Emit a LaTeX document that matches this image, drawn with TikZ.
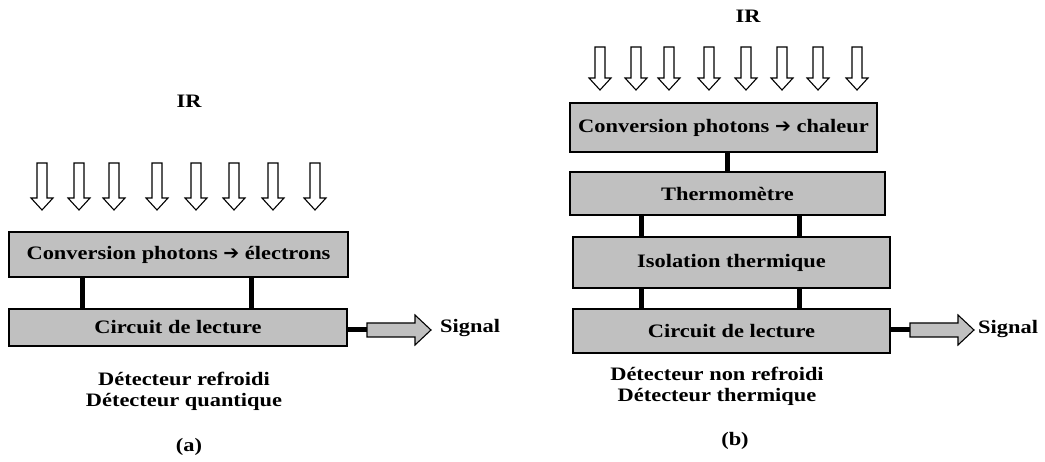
\documentclass[tikz,border=0pt]{standalone}
\usepackage{fontspec}
\newfontfamily\dejavu{DejaVu Sans}
\newfontfamily\lblfam{Liberation Serif}[FakeStretch=1.18]
\usetikzlibrary{calc}
\definecolor{boxgray}{RGB}{192,192,192}
\newcommand\lblfont{\lblfam\bfseries\fontsize{19}{21}\selectfont}
\newcommand\myarr{{\dejavu\bfseries\fontsize{19}{19}\selectfont ➔}}
\newcommand\irarrow[3]{\draw[irarr] (#1-5,#2) -- (#1+5,#2) -- (#1+5,#3-12) -- (#1+11,#3-12) -- (#1,#3) -- (#1-11,#3-12) -- (#1-5,#3-12) -- cycle;}
\newcommand\sigarrow[1]{\draw[sigarr] (#1) ++(0,-7) -- ++(48,0) -- ++(0,-8) -- ++(16,15) -- ++(-16,15) -- ++(0,-8) -- ++(-48,0) -- cycle;}
\begin{document}
\begin{tikzpicture}[x=1pt,y=-1pt,
  box/.style={draw=black,line width=1.5pt,fill=boxgray,inner sep=0pt,font=\lblfont},
  link/.style={line width=5pt},
  irarr/.style={draw=black,line width=1.1pt,fill=white,line join=miter},
  sigarr/.style={draw=black,line width=1.1pt,fill=boxgray,line join=miter},
  lbl/.style={font=\lblfont,inner sep=0pt,align=center}]
\path[use as bounding box] (0,0) rectangle (1045,462);

% ---------- (a) ----------
\node[lbl] (ira) at (189,101) {IR};
\foreach \x in {42,79,114,157,196,234,273,315} {\irarrow{\x}{163}{210}}
\node[box,minimum width=339pt,minimum height=45pt] (a1) at (178.5,254.5) {Conversion photons \myarr{} électrons};
\node[box,minimum width=338pt,minimum height=37pt] (a2) at (178,327.5) {Circuit de lecture};
\draw[link] ($(a1.south west)+(74,0)$) -- ($(a2.north west)+(74,0)$);
\draw[link] ($(a1.south west)+(243,0)$) -- ($(a2.north west)+(243,0)$);
\coordinate (sa) at (367,330);
\draw[link] (sa -| a2.east) -- (sa);
\sigarrow{sa}
\node[lbl,anchor=west] (siga) at (440,328) {Signal};
\node[lbl] (capa) at (184,391.5) {Détecteur refroidi\\Détecteur quantique};
\node[lbl] (taga) at (189,447) {(a)};

% ---------- (b) ----------
\node[lbl] (irb) at (748,16) {IR};
\foreach \x in {600,636,669,709,746,782,818,857} {\irarrow{\x}{47}{90}}
\node[box,minimum width=307pt,minimum height=49pt] (b1) at (723.5,127.5) {Conversion photons \myarr{} chaleur};
\node[box,minimum width=315pt,minimum height=43pt] (b2) at (727.5,193.5) {Thermomètre};
\node[box,minimum width=317pt,minimum height=51pt] (b3) at (731.5,262.5) {Isolation thermique};
\node[box,minimum width=317pt,minimum height=44pt] (b4) at (731.5,331) {Circuit de lecture};
\draw[link] ($(b1.south west)+(158,0)$) -- ($(b2.north west)+(158,0)$);
\draw[link] ($(b2.south west)+(72,0)$) -- ($(b3.north west)+(69,0)$);
\draw[link] ($(b2.south west)+(230,0)$) -- ($(b3.north west)+(227,0)$);
\draw[link] ($(b3.south west)+(69,0)$) -- ($(b4.north west)+(69,0)$);
\draw[link] ($(b3.south west)+(227,0)$) -- ($(b4.north west)+(227,0)$);
\coordinate (sb) at (910,330);
\draw[link] (sb -| b4.east) -- (sb);
\sigarrow{sb}
\node[lbl,anchor=west] (sigb) at (978,329) {Signal};
\node[lbl] (capb) at (717,386) {Détecteur non refroidi\\Détecteur thermique};
\node[lbl] (tagb) at (735,441) {(b)};
\end{tikzpicture}
\end{document}
